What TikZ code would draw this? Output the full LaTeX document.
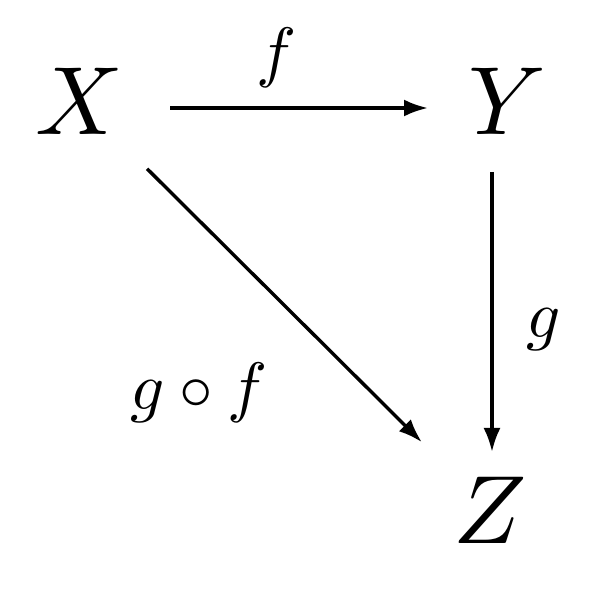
\documentclass[tikz,border=0pt]{standalone}
\usetikzlibrary{arrows.meta}
\begin{document}
\begin{tikzpicture}[x=1pt,y=1pt,
  obj/.style={inner sep=0pt,scale=9.7},
  lbl/.style={inner sep=0pt,scale=6.7},
  arr/.style={line width=3.4pt,-{Latex[length=24pt,width=17pt]}}]
\useasboundingbox (0,0) rectangle (590,590);
\node[obj] (X) at (79,489) {$X$};
\node[obj] (Y) at (507,489) {$Y$};
\node[obj] (Z) at (490,80) {$Z$};
\draw[arr,shorten <=91pt,shorten >=79pt] ([yshift=-7pt]X.center) -- ([yshift=-7pt]Y.center);
\draw[arr,shorten <=71pt,shorten >=58pt] ([xshift=-15pt]Y.center) -- ([xshift=2pt]Z.center);
\draw[arr,shorten <=96pt,shorten >=96pt] (X.center) -- (Z.center);
\node[lbl] (f) at (277,532) {$f$};
\node[lbl] (g) at (544,260) {$g$};
\node[lbl] (gf) at (199,197) {$g\circ f$};
\end{tikzpicture}
\end{document}
